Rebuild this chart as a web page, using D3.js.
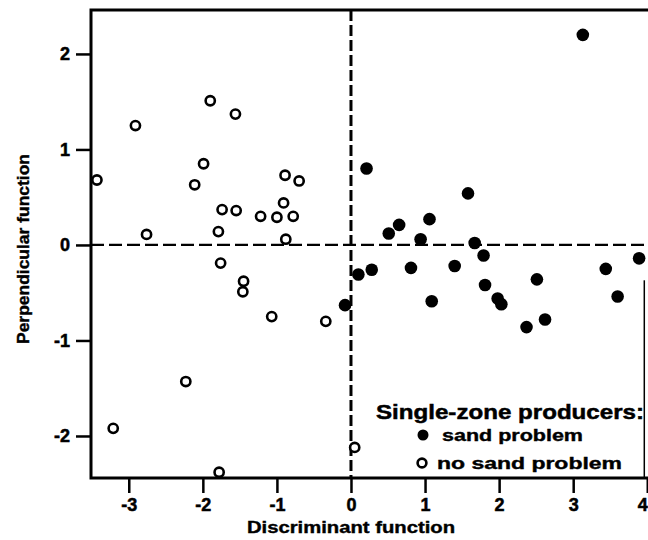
<!DOCTYPE html>
<html>
<head>
<meta charset="utf-8">
<script src="https://cdn.jsdelivr.net/npm/d3@7"></script>
<style>
  html, body { margin: 0; padding: 0; background: #fff; }
  svg { display: block; font-family: "Liberation Sans", Arial, sans-serif; }
</style>
</head>
<body>
<svg id="chart" width="648" height="540"></svg>
<script>
// ---- data ----
const noSandX = [-3.43, -2.91, -2.76, -1.90, -1.99, -2.11, -1.56, -1.74, -1.55, -1.79, -1.76,
                 -0.89, -0.70, -0.91, -1.22, -1.00, -0.78, -0.88, -1.45, -1.46, -1.07, -0.34,
                 -2.23, -3.21, -1.78, 0.05];
const noSandY = [0.68, 1.25, 0.11, 1.51, 0.85, 0.63, 1.37, 0.37, 0.36, 0.14, -0.19,
                 0.73, 0.67, 0.44, 0.30, 0.29, 0.30, 0.06, -0.38, -0.49, -0.75, -0.80,
                 -1.43, -1.92, -2.38, -2.12];
const sandX = [0.21, 1.58, 1.06, 0.65, 0.51, 0.94, 1.67, 1.79, 0.10, 0.28, 0.81, 1.40,
               1.81, 1.09, -0.08, 3.44, 3.89, 2.51, 1.98, 2.03, 3.60, 2.62, 2.37, 3.13];
const sandY = [0.80, 0.54, 0.27, 0.21, 0.12, 0.06, 0.02, -0.11, -0.31, -0.26, -0.24, -0.22,
               -0.42, -0.59, -0.63, -0.25, -0.14, -0.36, -0.56, -0.62, -0.54, -0.78, -0.86, 2.20];
const xTicks = [-3, -2, -1, 0, 1, 2, 3, 4];
const xTickLabels = ["-3", "-2", "-1", "0", "1", "2", "3", "4"];
const yTicks = [-2, -1, 0, 1, 2];
const yTickLabels = ["-2", "-1", "0", "1", "2"];
const xTitle = "Discriminant function";
const yTitle = "Perpendicular function";
const legendTitle = "Single-zone producers:";
const legendLabels = ["sand problem", "no sand problem"];

// ---- layout ----
const svg = d3.select("#chart");
const pL = 91, pR = 648, pT = 10, pB = 478;
const x = d3.scaleLinear().domain([-3.51, 4.01]).range([pL, pR]);
const y = d3.scaleLinear().domain([-2.44, 2.46]).range([pB, pT]);
const ink = "#000";

// reference dashed lines
svg.append("line")
  .attr("x1", x(0)).attr("x2", x(0)).attr("y1", pT).attr("y2", pB)
  .attr("stroke", ink).attr("stroke-width", 3).attr("stroke-dasharray", "11,4");
svg.append("line")
  .attr("x1", pL).attr("x2", pR).attr("y1", y(0)).attr("y2", y(0))
  .attr("stroke", ink).attr("stroke-width", 2.2).attr("stroke-dasharray", "13,5");

// axes
const xAxis = d3.axisBottom(x).tickValues(xTicks).tickSize(15).tickPadding(5)
  .tickFormat((d, i) => xTickLabels[i]);
const yAxis = d3.axisLeft(y).tickValues(yTicks).tickSize(15).tickPadding(6)
  .tickFormat((d, i) => yTickLabels[i]);

const gx = svg.append("g").attr("transform", `translate(0,${pB})`).call(xAxis);
const gy = svg.append("g").attr("transform", `translate(${pL},0)`).call(yAxis);
[gx, gy].forEach(g => {
  g.select(".domain").remove();
  g.selectAll(".tick line").attr("stroke", ink).attr("stroke-width", 2.5);
  g.selectAll(".tick text").attr("fill", ink).attr("font-weight", "bold")
    .attr("stroke", ink).attr("stroke-width", 0.5)
    .attr("font-family", "'Liberation Sans', Arial, sans-serif");
});
gx.selectAll(".tick text").attr("font-size", 18);
gy.selectAll(".tick text").attr("font-size", 18);
// last x label sits at the right edge: keep it fully inside the picture
gx.selectAll(".tick text").filter(d => d === xTicks[xTicks.length - 1])
  .attr("text-anchor", "end").attr("dx", 0);

// frame
svg.append("path")
  .attr("d", `M${pR},${pT} H${pL} V${pB} H${pR}`)
  .attr("fill", "none").attr("stroke", ink).attr("stroke-width", 3);
svg.append("line")
  .attr("x1", x(3.96)).attr("x2", x(3.96)).attr("y1", y(-0.37)).attr("y2", pB)
  .attr("stroke", ink).attr("stroke-width", 1.5);

// points
const noSand = noSandX.map((v, i) => ({ x: v, y: noSandY[i] }));
const sand = sandX.map((v, i) => ({ x: v, y: sandY[i] }));

svg.append("g").selectAll("circle").data(noSand).join("circle")
  .attr("cx", d => x(d.x)).attr("cy", d => y(d.y)).attr("r", 4.6)
  .attr("fill", "#fff").attr("stroke", ink).attr("stroke-width", 2.6);
svg.append("g").selectAll("circle").data(sand).join("circle")
  .attr("cx", d => x(d.x)).attr("cy", d => y(d.y)).attr("r", 6.3)
  .attr("fill", ink);

// axis titles
svg.append("text")
  .attr("x", 351).attr("y", 533).attr("text-anchor", "middle")
  .attr("font-size", 17).attr("font-weight", "bold").attr("fill", ink)
  .attr("stroke", ink).attr("stroke-width", 0.4)
  .attr("textLength", 208).attr("lengthAdjust", "spacingAndGlyphs")
  .text(xTitle);
svg.append("text")
  .attr("transform", "translate(29,249) rotate(-90)").attr("text-anchor", "middle")
  .attr("font-size", 17).attr("font-weight", "bold").attr("fill", ink)
  .attr("stroke", ink).attr("stroke-width", 0.4)
  .attr("textLength", 190).attr("lengthAdjust", "spacingAndGlyphs")
  .text(yTitle);

// legend
const lg = svg.append("g");
lg.append("text").attr("x", 376).attr("y", 419)
  .attr("font-size", 21).attr("font-weight", "bold").attr("fill", ink)
  .attr("stroke", ink).attr("stroke-width", 0.5)
  .attr("textLength", 268).attr("lengthAdjust", "spacingAndGlyphs")
  .text(legendTitle);
lg.append("circle").attr("cx", 423).attr("cy", 435).attr("r", 5.5).attr("fill", ink);
lg.append("text").attr("x", 442).attr("y", 441)
  .attr("font-size", 17).attr("font-weight", "bold").attr("fill", ink)
  .attr("stroke", ink).attr("stroke-width", 0.4)
  .attr("textLength", 141).attr("lengthAdjust", "spacingAndGlyphs")
  .text(legendLabels[0]);
lg.append("circle").attr("cx", 422).attr("cy", 463).attr("r", 4.4)
  .attr("fill", "#fff").attr("stroke", ink).attr("stroke-width", 2.6);
lg.append("text").attr("x", 437).attr("y", 469)
  .attr("font-size", 17).attr("font-weight", "bold").attr("fill", ink)
  .attr("stroke", ink).attr("stroke-width", 0.4)
  .attr("textLength", 185).attr("lengthAdjust", "spacingAndGlyphs")
  .text(legendLabels[1]);
</script>
</body>
</html>
